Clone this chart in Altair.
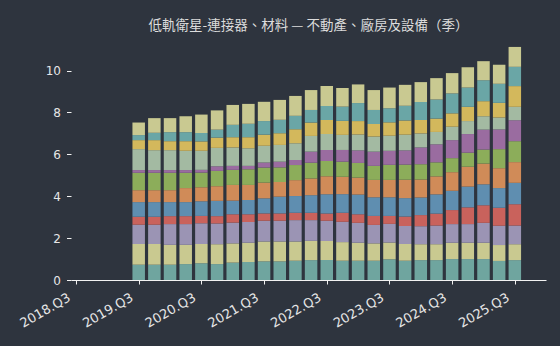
import altair as alt
import pandas as pd

quarters = ["2019.Q3", "2019.Q4", "2020.Q1", "2020.Q2", "2020.Q3", "2020.Q4",
            "2021.Q1", "2021.Q2", "2021.Q3", "2021.Q4", "2022.Q1", "2022.Q2",
            "2022.Q3", "2022.Q4", "2023.Q1", "2023.Q2", "2023.Q3", "2023.Q4",
            "2024.Q1", "2024.Q2", "2024.Q3", "2024.Q4", "2025.Q1", "2025.Q2",
            "2025.Q3"]

# series, bottom to top
s01 = [0.73, 0.73, 0.73, 0.76, 0.80, 0.76, 0.83, 0.86, 0.89, 0.89, 0.92, 0.95, 0.95,
       0.92, 0.92, 0.92, 0.99, 0.92, 0.95, 0.95, 1.00, 1.00, 1.00, 0.91, 0.95]
s02 = [0.99, 0.99, 0.95, 0.92, 0.92, 0.95, 0.92, 0.92, 0.95, 0.95, 0.92, 0.92, 0.91,
       0.89, 0.86, 0.83, 0.80, 0.80, 0.76, 0.76, 0.78, 0.78, 0.78, 0.76, 0.76]
s03 = [0.92, 0.92, 0.99, 0.99, 0.99, 0.99, 0.99, 0.99, 0.99, 0.99, 1.02, 0.99, 0.97,
       0.97, 0.95, 0.88, 0.89, 0.86, 0.86, 0.89, 0.89, 0.89, 0.95, 0.92, 0.89]
s04 = [0.38, 0.38, 0.38, 0.38, 0.35, 0.35, 0.40, 0.37, 0.35, 0.35, 0.35, 0.35, 0.35,
       0.43, 0.41, 0.43, 0.38, 0.45, 0.53, 0.57, 0.67, 0.80, 0.84, 0.86, 1.02]
s05 = [0.70, 0.70, 0.67, 0.67, 0.70, 0.73, 0.65, 0.68, 0.72, 0.80, 0.80, 0.84, 0.92,
       0.89, 0.94, 0.89, 0.89, 0.88, 0.84, 0.92, 0.92, 0.99, 1.00, 0.94, 1.02]
s06 = [0.57, 0.57, 0.57, 0.67, 0.67, 0.70, 0.75, 0.72, 0.75, 0.70, 0.76, 0.80, 0.86,
       0.83, 0.81, 0.83, 0.83, 0.88, 0.86, 0.86, 0.89, 0.95, 0.99, 0.95, 0.99]
s07 = [0.83, 0.83, 0.83, 0.73, 0.70, 0.73, 0.72, 0.75, 0.72, 0.70, 0.72, 0.75, 0.72,
       0.72, 0.70, 0.67, 0.72, 0.72, 0.73, 0.67, 0.67, 0.67, 0.67, 0.91, 1.00]
s08 = [0.13, 0.13, 0.13, 0.13, 0.13, 0.22, 0.19, 0.16, 0.24, 0.27, 0.24, 0.53, 0.53,
       0.56, 0.60, 0.68, 0.67, 0.68, 0.80, 0.86, 0.86, 0.89, 0.95, 0.94, 1.00]
s09 = [1.00, 0.95, 0.95, 0.92, 0.91, 0.88, 0.88, 0.84, 0.80, 0.80, 0.80, 0.75, 0.76,
       0.72, 0.76, 0.72, 0.72, 0.75, 0.67, 0.59, 0.64, 0.62, 0.64, 0.57, 0.64]
s10 = [0.43, 0.48, 0.43, 0.46, 0.45, 0.49, 0.49, 0.53, 0.53, 0.56, 0.67, 0.64, 0.67,
       0.67, 0.64, 0.60, 0.64, 0.68, 0.64, 0.64, 0.64, 0.68, 0.72, 0.70, 0.99]
s11 = [0.24, 0.35, 0.43, 0.43, 0.40, 0.38, 0.59, 0.64, 0.65, 0.64, 0.64, 0.60, 0.67,
       0.68, 0.86, 0.67, 0.67, 0.70, 0.86, 0.91, 0.95, 0.92, 1.00, 0.91, 0.92]
s12 = [0.60, 0.70, 0.67, 0.76, 0.88, 0.92, 0.95, 0.95, 0.92, 0.95, 0.95, 0.95, 0.95,
       0.89, 0.89, 0.95, 0.99, 1.00, 0.95, 1.02, 0.97, 0.97, 0.91, 0.91, 0.95]

series = [s01, s02, s03, s04, s05, s06, s07, s08, s09, s10, s11, s12]
series_names = [f"s{i+1:02d}" for i in range(len(series))]
colors = ["#6fa59f", "#c9c990", "#9b94b4", "#c9625c", "#5f8eb0", "#d08b58",
          "#8cad5a", "#9a6ca0", "#a3baa2", "#d3b85c", "#6aa6a6", "#c9c991"]

tick_years = [2018, 2019, 2020, 2021, 2022, 2023, 2024, 2025]

rows = []
for k, (name, vals) in enumerate(zip(series_names, series)):
    for q, v in zip(quarters, vals):
        y, qq = q.split(".Q")
        idx = (int(y) - 2018) * 4 + (int(qq) - 3)
        rows.append({"idx": idx, "quarter": q, "series": name, "order": k, "value": v})
df = pd.DataFrame(rows)

bg = "#2e343e"
txt = "#e6e6e6"

chart = alt.Chart(df).mark_bar(size=12.5).encode(
    x=alt.X("idx:Q",
            scale=alt.Scale(domain=[0, 29.67], nice=False, zero=False),
            axis=alt.Axis(values=[(y - 2018) * 4 for y in tick_years],
                          labelExpr="(2018 + datum.value / 4) + '.Q3'",
                          title=None, grid=False, labelAngle=-30,
                          labelAlign="right", labelBaseline="top",
                          labelPadding=7, labelOffset=-10,
                          tickSize=4, domainColor="#f2f2f2",
                          tickColor="#f2f2f2", labelColor=txt, labelFontSize=13,
                          labelFont="DejaVu Sans")),
    y=alt.Y("value:Q", stack="zero",
            scale=alt.Scale(domain=[0, 11.7], nice=False),
            axis=alt.Axis(values=[0, 2, 4, 6, 8, 10], title=None, grid=False,
                          domain=False, tickSize=4.5, tickColor="#f2f2f2",
                          labelPadding=6, labelColor=txt, labelFontSize=12,
                          labelFont="DejaVu Sans")),
    color=alt.Color("series:N", scale=alt.Scale(domain=series_names, range=colors),
                    legend=None),
    order=alt.Order("order:Q", sort="ascending"),
).properties(
    width=475, height=245,
    title=alt.Title("低軌衛星-連接器、材料 — 不動產、廠房及設備（季）",
                    font="Noto Sans CJK TC", fontSize=13.5, fontWeight="normal",
                    color="#dcdcdc", anchor="middle", offset=3),
    padding={"left": 71, "top": 35, "right": 14, "bottom": 66},
    autosize=alt.AutoSizeParams(type="none"),
    background=bg,
).configure_view(stroke=None)

chart.save("out.html", embed_options={"renderer": "svg", "actions": False})
